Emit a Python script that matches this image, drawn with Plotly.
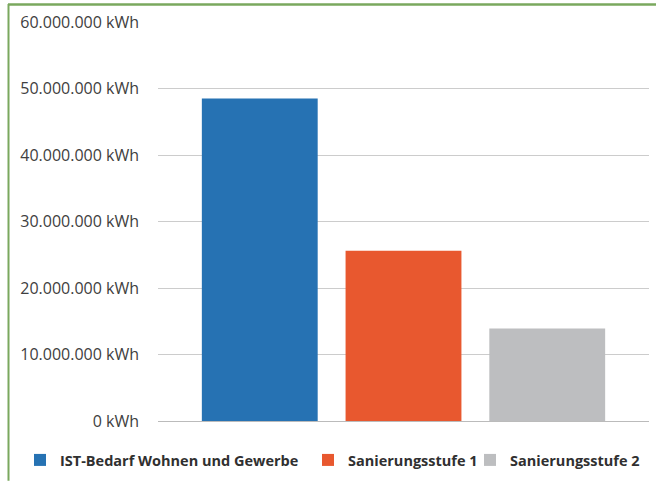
import plotly.graph_objects as go

categories = ["IST-Bedarf Wohnen und Gewerbe", "Sanierungsstufe 1", "Sanierungsstufe 2"]
values = [48500000, 25600000, 13900000]
colors = ["#2672B3", "#E8582F", "#BDBEC0"]
tick_vals = [0, 10000000, 20000000, 30000000, 40000000, 50000000, 60000000]
tick_text = ["0 kWh", "10.000.000 kWh", "20.000.000 kWh", "30.000.000 kWh",
             "40.000.000 kWh", "50.000.000 kWh", "60.000.000 kWh"]
legend_widths = [243, 117, 140]

W, H = 656, 482
L, R, T, B = 158, 7, 22, 60
pw, ph = W - L - R, H - T - B

def px(x):
    return (x - L) / pw

def py(y):
    return (H - B - y) / ph

fig = go.Figure()
for c, v, col, lw in zip(categories, values, colors, legend_widths):
    fig.add_trace(go.Bar(x=[c], y=[v], name=c, marker=dict(color=col, line=dict(width=0)),
                         width=0.806, legendwidth=lw))

font_family = "Open Sans, Lato, sans-serif"
fig.update_layout(
    width=W, height=H,
    margin=dict(l=L, r=R, t=T, b=B),
    paper_bgcolor="white", plot_bgcolor="white",
    barmode="overlay",
    showlegend=True,
    legend=dict(orientation="h", x=px(20), xanchor="left", y=py(460), yanchor="middle",
                font=dict(family=font_family, size=14.5, color="#303030", weight="bold"),
                itemwidth=30, tracegroupgap=0, bgcolor="rgba(0,0,0,0)", borderwidth=0),
    font=dict(family=font_family, color="#404040"),
    xaxis=dict(showticklabels=False, showgrid=False, zeroline=False, showline=False,
               range=[-0.708, 2.708], fixedrange=True),
    yaxis=dict(range=[0, 60000000], tickvals=tick_vals, ticktext=tick_text,
               showgrid=True, gridcolor="#CCCCCC", gridwidth=1,
               zeroline=True, zerolinecolor="#BBBBBB", zerolinewidth=1,
               showline=False, ticks="", ticklabelstandoff=18,
               tickfont=dict(family=font_family, size=16, color="#404040")),
    shapes=[
        dict(type="line", xref="paper", yref="paper", x0=px(8), x1=px(656), y0=py(4.5), y1=py(4.5),
             line=dict(color="#7AA85E", width=2.5)),
        dict(type="line", xref="paper", yref="paper", x0=px(8.5), x1=px(8.5), y0=py(4), y1=py(482),
             line=dict(color="#7AA85E", width=2)),
    ],
)

fig.write_html("out.html", config={"displayModeBar": False},
               post_script="document.body.style.margin='0';")
